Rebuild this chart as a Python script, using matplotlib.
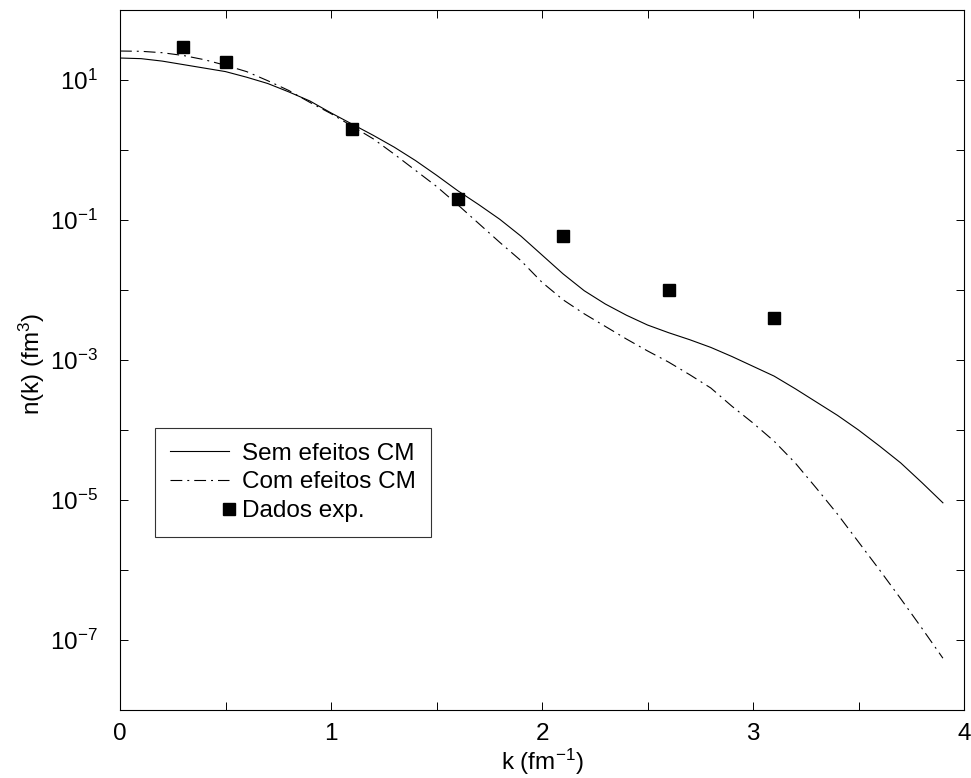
import numpy as np
import matplotlib
matplotlib.use("Agg")
import matplotlib.pyplot as plt
from matplotlib.legend_handler import HandlerBase
from matplotlib.lines import Line2D

plt.rcParams['font.family'] = ['Liberation Sans', 'DejaVu Sans']
plt.rcParams['mathtext.fontset'] = 'custom'
plt.rcParams['mathtext.rm'] = 'Liberation Sans'
plt.rcParams['mathtext.it'] = 'Liberation Sans'
plt.rcParams['mathtext.default'] = 'regular'
plt.rcParams['lines.scale_dashes'] = False

# ---- data (log10 of n(k)) ----
k_curve = [0.0, 0.1, 0.2, 0.3, 0.4, 0.5, 0.6, 0.7, 0.8, 0.9, 1.0, 1.1, 1.2, 1.3,
           1.4, 1.5, 1.6, 1.7, 1.8, 1.9, 2.0, 2.1, 2.2, 2.3, 2.4, 2.5, 2.6, 2.7,
           2.8, 2.9, 3.0, 3.1, 3.2, 3.3, 3.4, 3.5, 3.6, 3.7, 3.8, 3.9]
log_sem = [1.314, 1.305, 1.27, 1.22, 1.17, 1.12, 1.04, 0.95, 0.83, 0.70, 0.53,
           0.37, 0.21, 0.04, -0.15, -0.36, -0.58, -0.78, -0.99, -1.23, -1.50,
           -1.77, -2.01, -2.20, -2.36, -2.50, -2.61, -2.71, -2.82, -2.95, -3.09,
           -3.23, -3.41, -3.60, -3.79, -4.00, -4.23, -4.47, -4.75, -5.04]
log_com = [1.414, 1.41, 1.39, 1.35, 1.29, 1.21, 1.12, 0.99, 0.85, 0.68, 0.52,
           0.34, 0.16, -0.06, -0.29, -0.52, -0.78, -1.05, -1.32, -1.58, -1.89,
           -2.14, -2.34, -2.52, -2.70, -2.87, -3.03, -3.21, -3.40, -3.66, -3.90,
           -4.16, -4.47, -4.83, -5.20, -5.60, -6.00, -6.41, -6.83, -7.26]
k_exp = [0.3, 0.5, 1.1, 1.6, 2.1, 2.6, 3.1]
n_exp = [29.5, 18.0, 2.0, 0.20, 0.059, 0.010, 0.0040]

labels = ['Sem efeitos CM', 'Com efeitos CM', 'Dados exp.']
xtick_vals = [0, 0.5, 1, 1.5, 2, 2.5, 3, 3.5, 4]
xtick_labels = ['0', '', '1', '', '2', '', '3', '', '4']
ytick_exps = [-8, -7, -6, -5, -4, -3, -2, -1, 0, 1, 2]

FS = 17.5
W, H = 971, 778
fig = plt.figure(figsize=(W / 100, H / 100), dpi=100)
ax = fig.add_axes([120 / W, 1 - 710 / H, 844 / W, 700 / H])

n_sem = 10.0 ** np.array(log_sem)
n_com = 10.0 ** np.array(log_com)

l1, = ax.plot(k_curve, n_sem, color='black', lw=0.8, label=labels[0])
l2, = ax.plot(k_curve, n_com, color='black', lw=0.8,
              linestyle=(0, (8.5, 3.6, 1.4, 3.6)), label=labels[1])
l3, = ax.plot(k_exp, n_exp, linestyle='none', marker='s', markersize=8.5,
              color='black', label=labels[2])

ax.set_yscale('log')
ax.set_xlim(0, 4)
ax.set_ylim(1e-8, 1e2)

ax.set_xticks(xtick_vals)
ax.set_xticklabels(xtick_labels)
ax.set_yticks([10.0 ** e for e in ytick_exps])
ax.set_yticklabels([(r'$10^{%d}$' % e) if e % 2 != 0 else '' for e in ytick_exps])
ax.yaxis.set_minor_locator(matplotlib.ticker.NullLocator())

ax.tick_params(axis='both', which='major', direction='in', length=6,
               width=0.7, top=True, right=True, labelsize=FS, color='black')
ax.tick_params(axis='x', pad=9)
ax.tick_params(axis='y', pad=16)
for s in ax.spines.values():
    s.set_linewidth(0.8)

ax.set_xlabel(r'k (fm$^{-1}$)', fontsize=FS)
ax.set_ylabel(r'n(k) (fm$^{3}$)', fontsize=FS)
ax.xaxis.set_label_coords(0.5, -0.052)
ax.yaxis.set_label_coords(-0.0865, 0.495)


class RightMarker(HandlerBase):
    def create_artists(self, legend, orig_handle, xdescent, ydescent,
                       width, height, fontsize, trans):
        x = -xdescent + width
        y = -ydescent + height / 2.0
        m = Line2D([x], [y], marker='s', linestyle='none',
                   markersize=orig_handle.get_markersize(),
                   color=orig_handle.get_color(), transform=trans)
        return [m]


leg = ax.legend(handles=[l1, l2, l3], loc='upper left',
                bbox_to_anchor=(155 / W, 1 - 428 / H),
                bbox_transform=fig.transFigure, borderaxespad=0,
                fontsize=FS, frameon=True, fancybox=False, shadow=False,
                handlelength=2.43, handletextpad=0.56, labelspacing=0.28,
                borderpad=0.6, numpoints=1,
                handler_map={l3: RightMarker()})
leg.get_frame().set_edgecolor('black')
leg.get_frame().set_linewidth(0.8)

fig.savefig('out.png', dpi=100)
